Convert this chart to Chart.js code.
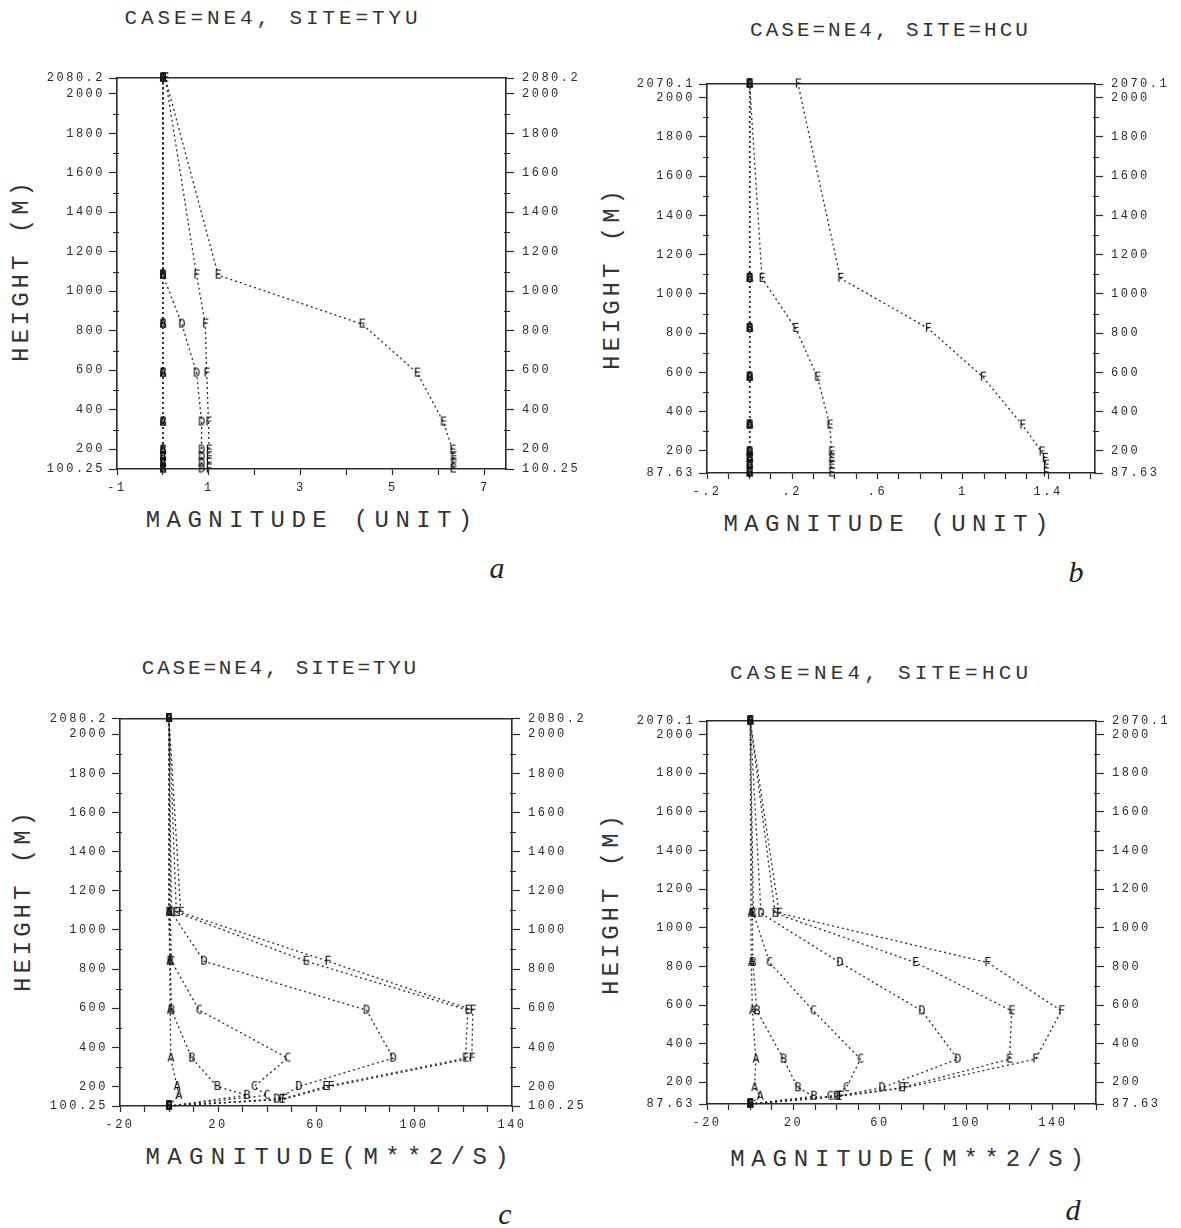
<!DOCTYPE html>
<html><head><meta charset="utf-8">
<script src="https://cdn.jsdelivr.net/npm/chart.js@4.4.1/dist/chart.umd.min.js"></script>
<style>
html,body{margin:0;padding:0;background:#fff;}
body{width:1181px;height:1228px;position:relative;overflow:hidden;font-family:"Liberation Mono","DejaVu Sans Mono",monospace;color:#333;}
canvas{position:absolute;}
.t{position:absolute;white-space:nowrap;transform:translate(-50%,-50%);line-height:1;}
.ttl{font-size:21px;}
.xt{font-size:24px;}
.yt{font-size:24px;transform:translate(-50%,-50%) rotate(-90deg);letter-spacing:4px;padding-left:4px;}
.cap{font-family:"Liberation Serif",serif;font-style:italic;font-size:30px;color:#222;}
</style></head><body>
<div class="t ttl" style="left:271px;top:18px;letter-spacing:3.9px;padding-left:3.9px">CASE=NE4, SITE=TYU</div>
<div class="t ttl" style="left:889px;top:30px;letter-spacing:3.0px;padding-left:3.0px">CASE=NE4, SITE=HCU</div>
<div class="t ttl" style="left:279px;top:668px;letter-spacing:2.8px;padding-left:2.8px">CASE=NE4, SITE=TYU</div>
<div class="t ttl" style="left:879px;top:673px;letter-spacing:4.2px;padding-left:4.2px">CASE=NE4, SITE=HCU</div>

<div class="t xt" style="left:309px;top:521px;letter-spacing:6.4px;padding-left:6.4px">MAGNITUDE (UNIT)</div>
<div class="t xt" style="left:886px;top:525px;letter-spacing:6.3px;padding-left:6.3px">MAGNITUDE (UNIT)</div>
<div class="t xt" style="left:327px;top:1158px;letter-spacing:7.4px;padding-left:7.4px">MAGNITUDE(M**2/S)</div>
<div class="t xt" style="left:907px;top:1160px;letter-spacing:6.8px;padding-left:6.8px">MAGNITUDE(M**2/S)</div>

<div class="t yt" style="left:22px;top:272px;">HEIGHT (M)</div>
<div class="t yt" style="left:613px;top:280px;">HEIGHT (M)</div>
<div class="t yt" style="left:24px;top:902px;">HEIGHT (M)</div>
<div class="t yt" style="left:612px;top:905px;">HEIGHT (M)</div>

<div class="t cap" style="left:497px;top:568px;">a</div>
<div class="t cap" style="left:1076px;top:572px;">b</div>
<div class="t cap" style="left:505px;top:1214px;">c</div>
<div class="t cap" style="left:1073px;top:1210px;">d</div>

<canvas id="ca" width="590" height="545" style="left:0px;top:0px"></canvas>
<canvas id="cb" width="581" height="545" style="left:600px;top:0px"></canvas>
<canvas id="cc" width="590" height="560" style="left:0px;top:620px"></canvas>
<canvas id="cd" width="581" height="560" style="left:600px;top:620px"></canvas>

<script>
// ---------------- DATA ----------------
const SERIES = ['A','B','C','D','E','F'];

// Panel a : CASE=NE4, SITE=TYU, magnitude (unit)
const aHeight = [100.25, 130, 162, 196, 338, 586, 834, 1082, 2080.2];
const aA = [0, 0, 0, 0, 0, 0, 0, 0, 0];
const aB = [0, 0, 0, 0, 0, 0, 0, 0, 0];
const aC = [0, 0, 0, 0, 0, 0, 0, 0, 0];
const aD = [0.84, 0.84, 0.84, 0.84, 0.84, 0.73, 0.41, 0, 0];
const aE = [6.31, 6.32, 6.32, 6.3, 6.1, 5.53, 4.33, 1.2, 0.05];
const aF = [1.0, 1.0, 1.0, 1.0, 0.99, 0.95, 0.92, 0.73, 0.05];
const aXRange = [-1, 7.46];
const aXTicks = [-1, 0, 1, 2, 3, 4, 5, 6, 7];
const aXLabels = [-1, 1, 3, 5, 7];
const aYLabels = [100.25, 200, 400, 600, 800, 1000, 1200, 1400, 1600, 1800, 2000, 2080.2];

// Panel b : CASE=NE4, SITE=HCU, magnitude (unit)
const bHeight = [87.63, 128, 162, 195, 332, 576, 825, 1080, 2070.1];
const bA = [0, 0, 0, 0, 0, 0, 0, 0, 0];
const bB = [0, 0, 0, 0, 0, 0, 0, 0, 0];
const bC = [0, 0, 0, 0, 0, 0, 0, 0, 0];
const bD = [0, 0, 0, 0, 0, 0, 0, 0, 0];
const bE = [0.385, 0.385, 0.385, 0.384, 0.376, 0.318, 0.216, 0.058, 0];
const bF = [1.39, 1.39, 1.385, 1.37, 1.28, 1.095, 0.837, 0.426, 0.227];
const bXRange = [-0.2, 1.62];
const bXTicks = [-0.2, -0.1, 0, 0.1, 0.2, 0.3, 0.4, 0.5, 0.6, 0.7, 0.8, 0.9, 1.0, 1.1, 1.2, 1.3, 1.4, 1.5, 1.6];
const bXLabels = [-0.2, 0.2, 0.6, 1.0, 1.4];
const bYLabels = [87.63, 200, 400, 600, 800, 1000, 1200, 1400, 1600, 1800, 2000, 2070.1];

// Panel c : CASE=NE4, SITE=TYU, magnitude (m**2/s)
const cHeight = [100.25, 135, 155, 200, 345, 590, 840, 1090, 2080.2];
const cA = [0, null, 4, 3.3, 0.7, 0.5, 0.3, 0, 0];
const cB = [0, null, 31.8, 19.7, 9.3, 1, 0.5, 0, 0];
const cC = [0, null, 40, 34.8, 48.4, 12.3, 1, 0.5, 0];
const cD = [0, 44, null, 53, 91.5, 80.6, 14.3, 1, 0];
const cE = [0, 46, null, 64, 121, 122, 56, 3, 0];
const cF = [0, 47, null, 66, 123.6, 124, 64.8, 4.8, 0];
const cXRange = [-20, 140];
const cXTicks = [-20, -10, 0, 10, 20, 30, 40, 50, 60, 70, 80, 90, 100, 110, 120, 130, 140];
const cXLabels = [-20, 20, 60, 100, 140];
const cYLabels = [100.25, 200, 400, 600, 800, 1000, 1200, 1400, 1600, 1800, 2000, 2080.2];

// Panel d : CASE=NE4, SITE=HCU, magnitude (m**2/s)
const dHeight = [87.63, 128, 172, 320, 570, 820, 1075, 2070.1];
const dA = [0, 4.6, 2, 2.6, 1, 0.5, 0.3, 0];
const dB = [0, 29.5, 22, 15.4, 3.1, 1.2, 1, 0];
const dC = [0, 37, 44.5, 51, 29.2, 8.9, 1.5, 0];
const dD = [0, 40, 61, 96, 79.4, 41.5, 5, 0];
const dE = [0, 41, 70, 120, 121, 76.5, 11.5, 0];
const dF = [0, 42, 72, 132, 144, 109.8, 13.4, 0];
const dXRange = [-20, 160];
const dXTicks = [-20, -10, 0, 10, 20, 30, 40, 50, 60, 70, 80, 90, 100, 110, 120, 130, 140, 150, 160];
const dXLabels = [-20, 20, 60, 100, 140];
const dYLabels = [87.63, 200, 400, 600, 800, 1000, 1200, 1400, 1600, 1800, 2000, 2070.1];

const yMinor = [300, 500, 700, 900, 1100, 1300, 1500, 1700, 1900];

// ---------------- RENDERING ----------------
const INK = '#2a2a2a';
const FONT = '"Liberation Mono", "DejaVu Sans Mono", monospace';

function letterImg(ch) {
  const c = document.createElement('canvas');
  c.width = 10; c.height = 13;
  const g = c.getContext('2d');
  g.fillStyle = '#111';
  g.font = '12px "DejaVu Sans Mono"';
  g.textAlign = 'center';
  g.textBaseline = 'middle';
  g.fillText(ch, 5, 7);
  return c;
}
const IMGS = {};
SERIES.forEach(s => IMGS[s] = letterImg(s));

const plotter = {
  id: 'plotter',
  beforeDraw(chart) { chart.ctx.letterSpacing = '2.5px'; },
  afterDraw(chart, args, opts) {
    const ctx = chart.ctx;
    ctx.save();
    ctx.strokeStyle = INK; ctx.lineWidth = 1;
    ['y', 'yR'].forEach(id => {
      const s = chart.scales[id];
      (opts.minor || []).forEach(v => {
        const py = Math.round(s.getPixelForValue(v)) + 0.5;
        ctx.beginPath();
        if (id === 'y') { ctx.moveTo(s.right - 4, py); ctx.lineTo(s.right + 2, py); }
        else { ctx.moveTo(s.left - 2, py); ctx.lineTo(s.left + 4, py); }
        ctx.stroke();
      });
    });
    ctx.restore();
  }
};

function datasets(heights, vals) {
  return SERIES.map((name, i) => ({
    label: name,
    data: heights.map((h, k) => ({ x: vals[i][k], y: h })).filter(p => p.x !== null),
    showLine: true,
    borderColor: INK,
    borderWidth: 1.3,
    borderDash: [2, 3],
    pointStyle: IMGS[name],
    pointRadius: 5,
    clip: false,
    xAxisID: 'x',
    yAxisID: 'y'
  }));
}

function yScale(pos, range, labels, w) {
  return {
    type: 'linear', position: pos, min: range[0], max: range[1],
    afterBuildTicks: s => { s.ticks = labels.map(v => ({ value: v })); },
    afterFit: s => { s.width = w; },
    ticks: { autoSkip: false, padding: pos === 'left' ? 4 : 8, color: INK,
      font: { family: FONT, size: 12 }, callback: v => String(v) },
    grid: { drawOnChartArea: false, tickLength: 8, tickColor: INK, tickWidth: 1.2 },
    border: { display: true, color: INK, width: 1.6 }
  };
}

function xScale(range, ticks, labels, fmt, h) {
  return {
    type: 'linear', position: 'bottom', min: range[0], max: range[1],
    afterBuildTicks: s => { s.ticks = ticks.map(v => ({ value: v })); },
    afterFit: s => { s.height = h; },
    ticks: { autoSkip: false, maxRotation: 0, minRotation: 0, padding: 6, color: INK,
      font: { family: FONT, size: 12 },
      callback: v => labels.some(l => Math.abs(l - v) < 1e-9) ? fmt(v) : '' },
    grid: { drawOnChartArea: false, tickLength: 6, tickColor: INK, tickWidth: 1.2 },
    border: { display: true, color: INK, width: 1.6 }
  };
}

function topScale(range) {
  return {
    type: 'linear', position: 'top', min: range[0], max: range[1],
    afterFit: s => { s.height = 0; },
    ticks: { display: false },
    grid: { drawOnChartArea: false, drawTicks: false },
    border: { display: true, color: INK, width: 1.6 }
  };
}

function panel(id, g, heights, vals, xr, xt, xl, fmt, yl) {
  const yr = [yl[0], yl[yl.length - 1]];
  new Chart(document.getElementById(id), {
    type: 'scatter',
    data: { datasets: datasets(heights, vals) },
    options: {
      responsive: false, animation: false, events: [],
      layout: { padding: { top: g.top, left: 0, right: 0, bottom: 0 } },
      plugins: { legend: { display: false }, tooltip: { enabled: false }, title: { display: false },
        plotter: { minor: yMinor } },
      scales: {
        x: xScale(xr, xt, xl, fmt, g.bottomH),
        xTop: topScale(xr),
        y: yScale('left', yr, yl, g.leftW),
        yR: yScale('right', yr, yl, g.rightW)
      }
    },
    plugins: [plotter]
  });
}

const fmtInt = v => String(Math.round(v));
const fmtDec = v => String(Math.round(v * 10) / 10).replace(/^(-?)0\./, '$1.');

panel('ca', { top: 78, leftW: 117, rightW: 84, bottomH: 76 }, aHeight, [aA, aB, aC, aD, aE, aF],
  aXRange, aXTicks, aXLabels, fmtInt, aYLabels);
panel('cb', { top: 84, leftW: 107, rightW: 86, bottomH: 72 }, bHeight, [bA, bB, bC, bD, bE, bF],
  bXRange, bXTicks, bXLabels, fmtDec, bYLabels);
panel('cc', { top: 98.5, leftW: 120, rightW: 78, bottomH: 74 }, cHeight, [cA, cB, cC, cD, cE, cF],
  cXRange, cXTicks, cXLabels, fmtInt, cYLabels);
panel('cd', { top: 101, leftW: 107, rightW: 85, bottomH: 76 }, dHeight, [dA, dB, dC, dD, dE, dF],
  dXRange, dXTicks, dXLabels, fmtInt, dYLabels);
</script>
</body></html>
